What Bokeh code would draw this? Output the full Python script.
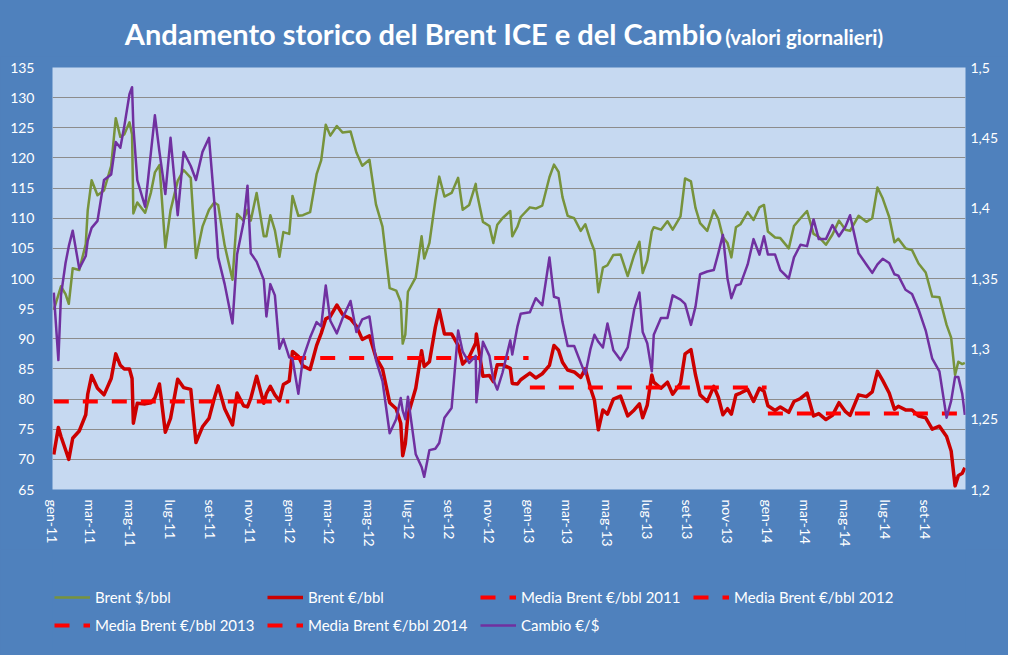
import pandas as pd
from bokeh.plotting import figure
from bokeh.layouts import column
from bokeh.models import (ColumnDataSource, Range1d, LinearAxis, FixedTicker,
                          CustomJSTickFormatter, Legend, LegendItem, Div)
from bokeh.embed import file_html
from bokeh.resources import INLINE

# ---------------- data ----------------
dates = [
    # 2011
    "2011-01-03", "2011-01-10", "2011-01-14", "2011-01-21", "2011-01-26", "2011-02-01", "2011-02-11", "2011-02-21",
    "2011-02-24", "2011-03-02", "2011-03-11", "2011-03-21", "2011-04-01", "2011-04-08", "2011-04-15", "2011-04-21",
    "2011-04-29", "2011-05-03", "2011-05-05", "2011-05-11", "2011-05-23", "2011-06-01", "2011-06-07", "2011-06-14",
    "2011-06-23", "2011-07-01", "2011-07-12", "2011-07-21", "2011-08-01", "2011-08-09", "2011-08-19", "2011-08-29",
    "2011-09-06", "2011-09-12", "2011-09-22", "2011-10-04", "2011-10-11", "2011-10-21", "2011-10-27", "2011-11-01",
    "2011-11-10", "2011-11-21", "2011-11-25", "2011-12-01", "2011-12-08", "2011-12-15", "2011-12-21", "2011-12-30",
    # 2012
    "2012-01-04", "2012-01-13", "2012-01-20", "2012-01-31", "2012-02-10", "2012-02-17", "2012-02-24", "2012-03-02",
    "2012-03-12", "2012-03-21", "2012-04-02", "2012-04-11", "2012-04-20", "2012-05-01", "2012-05-11", "2012-05-21",
    "2012-06-01", "2012-06-11", "2012-06-18", "2012-06-21", "2012-06-25", "2012-06-29", "2012-07-11", "2012-07-20",
    "2012-07-24", "2012-08-01", "2012-08-10", "2012-08-16", "2012-08-24", "2012-09-04", "2012-09-14", "2012-09-21",
    "2012-10-01", "2012-10-11", "2012-10-12", "2012-10-22", "2012-11-01", "2012-11-07", "2012-11-13", "2012-11-21",
    "2012-12-03", "2012-12-06", "2012-12-14", "2012-12-19",
    # 2013
    "2013-01-02", "2013-01-11", "2013-01-21", "2013-02-01", "2013-02-08", "2013-02-15", "2013-02-21", "2013-03-01",
    "2013-03-11", "2013-03-21", "2013-03-28", "2013-04-05", "2013-04-11", "2013-04-17", "2013-04-24", "2013-05-01",
    "2013-05-10", "2013-05-21", "2013-06-01", "2013-06-11", "2013-06-19", "2013-06-24", "2013-07-01", "2013-07-08",
    "2013-07-11", "2013-07-22", "2013-08-01", "2013-08-09", "2013-08-21", "2013-08-28", "2013-09-06", "2013-09-13",
    "2013-09-20", "2013-10-01", "2013-10-11", "2013-10-18", "2013-10-25", "2013-11-01", "2013-11-07", "2013-11-14",
    "2013-11-21", "2013-12-02", "2013-12-11", "2013-12-20", "2013-12-27",
    # 2014
    "2014-01-02", "2014-01-13", "2014-01-21", "2014-02-03", "2014-02-11", "2014-02-21", "2014-03-03", "2014-03-13",
    "2014-03-21", "2014-04-01", "2014-04-11", "2014-04-21", "2014-05-01", "2014-05-08", "2014-05-21", "2014-06-02",
    "2014-06-11", "2014-06-19", "2014-06-27", "2014-07-07", "2014-07-15", "2014-07-21", "2014-08-01", "2014-08-11",
    "2014-08-21", "2014-09-01", "2014-09-11", "2014-09-22", "2014-10-03", "2014-10-10", "2014-10-16", "2014-10-21",
    "2014-10-27", "2014-10-31",
]

brent_usd = [
    # 2011
    94.8, 97.3, 98.7, 97.4, 95.8, 101.7, 101.4, 105.7, 111.3, 116.3, 113.8, 114.6, 118.7, 126.6, 123.5, 123.9,
    125.9, 123.9, 110.8, 112.6, 110.9, 114.3, 117.6, 118.8, 105.1, 111.3, 116.2, 118.0, 116.7, 103.4, 108.6, 111.4,
    112.6, 112.2, 105.5, 99.8, 110.7, 109.6, 111.4, 109.6, 114.2, 107.0, 107.0, 110.5, 108.0, 103.6, 107.7, 107.4,
    # 2012
    113.7, 110.4, 110.5, 111.0, 117.3, 119.6, 125.5, 123.7, 125.3, 124.2, 124.4, 120.9, 118.7, 119.7, 112.3, 108.6,
    98.4, 98.0, 96.1, 89.2, 90.7, 97.8, 100.2, 107.0, 103.3, 105.9, 112.9, 116.9, 113.6, 114.2, 116.7, 111.4,
    112.2, 115.7, 114.6, 109.4, 108.7, 105.9, 108.9, 110.0, 111.2, 107.0, 108.6, 110.2,
    # 2013
    111.8, 111.6, 112.1, 116.8, 118.9, 117.7, 113.5, 110.4, 110.0, 107.9, 109.0, 106.3, 104.6, 97.7, 101.8, 102.2,
    103.9, 104.0, 100.4, 103.9, 106.1, 100.9, 103.0, 107.8, 108.5, 108.1, 109.5, 108.1, 110.3, 116.6, 116.1, 111.7,
    109.2, 107.9, 111.3, 109.9, 106.9, 105.9, 103.5, 108.5, 109.0, 111.0, 109.7, 111.8, 112.2,
    # 2014
    107.8, 106.8, 106.7, 105.0, 108.7, 110.0, 111.2, 107.4, 106.9, 105.6, 107.3, 109.6, 108.1, 107.9, 110.4, 109.4,
    110.0, 115.1, 113.3, 110.2, 106.0, 106.6, 105.0, 104.7, 102.5, 101.0, 97.0, 96.9, 92.3, 90.2, 84.0, 86.2,
    85.8, 86.0,
]

brent_eur = [
    # 2011
    70.8, 75.3, 73.8, 71.6, 70.0, 73.5, 74.7, 77.4, 80.8, 83.9, 81.8, 80.7, 83.4, 87.5, 85.6, 85.0,
    85.0, 83.4, 76.0, 79.3, 79.2, 79.4, 80.2, 82.5, 74.5, 76.8, 83.3, 81.9, 81.6, 72.8, 75.4, 76.8,
    80.1, 82.2, 78.4, 75.7, 81.0, 78.9, 78.7, 80.1, 83.8, 79.3, 80.9, 82.1, 80.7, 79.7, 82.4, 83.0,
    # 2012
    87.9, 87.1, 85.5, 84.9, 88.9, 90.9, 93.3, 93.7, 95.6, 94.0, 93.3, 92.1, 89.9, 90.5, 86.9, 85.0,
    79.4, 78.4, 76.0, 70.6, 72.6, 77.3, 81.8, 88.0, 85.4, 86.2, 91.9, 94.8, 90.8, 90.8, 88.9, 85.8,
    87.0, 89.3, 90.8, 83.8, 83.9, 82.9, 85.7, 85.7, 85.1, 82.6, 82.5, 83.2,
    # 2013
    84.3, 83.5, 84.2, 85.6, 88.9, 88.1, 86.1, 84.8, 84.5, 83.6, 85.0, 81.8, 79.8, 74.9, 78.2, 77.5,
    80.0, 80.5, 77.2, 78.2, 79.2, 76.9, 79.0, 84.0, 82.8, 81.8, 82.8, 80.8, 82.6, 87.5, 88.2, 84.0,
    80.7, 79.6, 82.1, 80.3, 77.4, 78.4, 77.5, 80.7, 81.0, 81.6, 79.6, 81.8, 81.3,
    # 2014
    78.9, 78.1, 78.7, 77.8, 79.6, 80.1, 81.0, 77.2, 77.6, 76.6, 77.3, 79.4, 77.9, 77.3, 80.7, 80.4,
    81.2, 84.6, 83.1, 81.0, 78.3, 78.8, 78.2, 78.2, 77.2, 76.9, 75.0, 75.5, 73.8, 71.4, 65.6, 67.3,
    67.7, 68.6,
]

cambio = [
    # 2011
    1.340, 1.292, 1.338, 1.361, 1.373, 1.384, 1.357, 1.366, 1.377, 1.386, 1.391, 1.420, 1.424, 1.447, 1.443, 1.458,
    1.481, 1.486, 1.458, 1.420, 1.401, 1.440, 1.466, 1.440, 1.410, 1.450, 1.395, 1.440, 1.430, 1.420, 1.440, 1.450,
    1.405, 1.365, 1.346, 1.318, 1.367, 1.390, 1.416, 1.368, 1.362, 1.349, 1.323, 1.346, 1.338, 1.300, 1.307, 1.294,
    # 2012
    1.293, 1.268, 1.293, 1.308, 1.319, 1.316, 1.345, 1.320, 1.311, 1.322, 1.334, 1.312, 1.321, 1.323, 1.292, 1.277,
    1.240, 1.250, 1.265, 1.256, 1.250, 1.266, 1.225, 1.216, 1.209, 1.228, 1.229, 1.233, 1.251, 1.258, 1.313, 1.298,
    1.290, 1.295, 1.262, 1.305, 1.295, 1.278, 1.271, 1.283, 1.306, 1.296, 1.316, 1.325,
    # 2013
    1.326, 1.336, 1.331, 1.365, 1.337, 1.336, 1.319, 1.302, 1.302, 1.290, 1.282, 1.300, 1.310, 1.305, 1.301, 1.318,
    1.299, 1.292, 1.301, 1.328, 1.340, 1.312, 1.304, 1.284, 1.310, 1.322, 1.322, 1.338, 1.335, 1.332, 1.317, 1.330,
    1.353, 1.355, 1.356, 1.368, 1.381, 1.350, 1.336, 1.345, 1.346, 1.360, 1.378, 1.367, 1.380,
    # 2014
    1.367, 1.367, 1.356, 1.350, 1.365, 1.374, 1.373, 1.392, 1.378, 1.378, 1.388, 1.380, 1.387, 1.395, 1.368, 1.360,
    1.354, 1.360, 1.364, 1.361, 1.353, 1.352, 1.342, 1.339, 1.328, 1.313, 1.293, 1.284, 1.251, 1.263, 1.280, 1.280,
    1.268, 1.253,
]

media_labels = ["Media Brent €/bbl 2011", "Media Brent €/bbl 2012", "Media Brent €/bbl 2013", "Media Brent €/bbl 2014"]
media_start = ["2011-01-03", "2012-01-02", "2013-01-02", "2014-01-02"]
media_end = ["2011-12-30", "2012-12-31", "2013-12-31", "2014-10-31"]
media_value = [79.6, 86.8, 81.9, 77.6]

tick_dates = ["2011-01-01", "2011-03-01", "2011-05-01", "2011-07-01", "2011-09-01", "2011-11-01",
              "2012-01-01", "2012-03-01", "2012-05-01", "2012-07-01", "2012-09-01", "2012-11-01",
              "2013-01-01", "2013-03-01", "2013-05-01", "2013-07-01", "2013-09-01", "2013-11-01",
              "2014-01-01", "2014-03-01", "2014-05-01", "2014-07-01", "2014-09-01"]
tick_labels = ["gen-11", "mar-11", "mag-11", "lug-11", "set-11", "nov-11",
               "gen-12", "mar-12", "mag-12", "lug-12", "set-12", "nov-12",
               "gen-13", "mar-13", "mag-13", "lug-13", "set-13", "nov-13",
               "gen-14", "mar-14", "mag-14", "lug-14", "set-14"]
left_ticks = [65, 70, 75, 80, 85, 90, 95, 100, 105, 110, 115, 120, 125, 130, 135]
right_ticks = [1.2, 1.25, 1.3, 1.35, 1.4, 1.45, 1.5]

title_main = "Andamento storico del Brent ICE e del Cambio"
title_sub = "(valori giornalieri)"

assert len(dates) == len(brent_usd) == len(brent_eur) == len(cambio)

# ---------------- styling ----------------
BG = "#4f81bd"
PLOT_BG = "#c6d9f1"
GRID = "#8c8c8c"
GREEN = "#77933c"
RED = "#cc0000"
MEDIA = "#ff0000"
PURPLE = "#7030a0"
FONT = "Lato"
W = 1008
TITLE_H = 56
MAIN_H = 493
LEG_H = 655 - TITLE_H - MAIN_H

USD_STYLE = dict(line_color=GREEN, line_width=2.5, line_join="round")
EUR_STYLE = dict(line_color=RED, line_width=3.5, line_join="round")
MEDIA_STYLE = dict(line_color=MEDIA, line_width=4, line_dash="15 14")
CAM_STYLE = dict(line_color=PURPLE, line_width=2.5, line_join="round")

src = ColumnDataSource(dict(date=pd.to_datetime(dates), usd=brent_usd, eur=brent_eur, cambio=cambio))

p = figure(width=W, height=MAIN_H, x_axis_type="datetime",
           output_backend="svg", toolbar_location=None,
           x_range=Range1d(pd.Timestamp("2011-01-01"), pd.Timestamp("2014-11-01")),
           y_range=Range1d(65, 135),
           min_border_left=52, min_border_right=43, min_border_top=11, min_border_bottom=58)
p.background_fill_color = PLOT_BG
p.border_fill_color = BG
p.outline_line_color = None
p.xgrid.visible = False
p.ygrid.grid_line_color = GRID
p.ygrid.grid_line_width = 1

p.extra_y_ranges = {"cambio": Range1d(1.2, 1.5)}


def style_axis(ax, standoff):
    ax.axis_line_color = None
    ax.major_tick_line_color = None
    ax.minor_tick_line_color = None
    ax.major_tick_out = 0
    ax.major_tick_in = 0
    ax.minor_tick_out = 0
    ax.minor_tick_in = 0
    ax.major_label_standoff = standoff
    ax.major_label_text_color = "white"
    ax.major_label_text_font = FONT
    ax.major_label_text_font_size = "14px"


yax = p.yaxis[0]
yax.ticker = FixedTicker(ticks=left_ticks)
style_axis(yax, 18)

rax = LinearAxis(y_range_name="cambio", ticker=FixedTicker(ticks=right_ticks),
                 formatter=CustomJSTickFormatter(code="return (Math.round(tick*100)/100).toString().replace('.', ',');"))
style_axis(rax, 5)
p.add_layout(rax, "right")

xticks = [pd.Timestamp(d).value / 1e6 for d in tick_dates]
xax = p.xaxis[0]
xax.ticker = FixedTicker(ticks=xticks)
xax.major_label_overrides = {t: lab for t, lab in zip(xticks, tick_labels)}
xax.major_label_orientation = "vertical"
style_axis(xax, 10)

# series
p.line("date", "usd", source=src, **USD_STYLE)
p.line("date", "eur", source=src, **EUR_STYLE)
for s, e, v in zip(media_start, media_end, media_value):
    p.line([pd.Timestamp(s), pd.Timestamp(e)], [v, v], **MEDIA_STYLE)
p.line("date", "cambio", source=src, y_range_name="cambio", **CAM_STYLE)

# ---------------- legend strip (separate canvas below the chart) ----------------
lp = figure(width=W, height=LEG_H, output_backend="svg", toolbar_location=None,
            x_range=Range1d(0, 1), y_range=Range1d(0, 1), min_border=0,
            x_axis_location=None, y_axis_location=None)
lp.background_fill_color = BG
lp.border_fill_color = BG
lp.outline_line_color = None
lp.grid.visible = False
# legend keys only: their points lie outside this strip's ranges, so nothing is drawn
off = dict(x=[2, 3], y=[2, 2])
k_usd = lp.line(**off, **USD_STYLE)
k_eur = lp.line(**off, **EUR_STYLE)
k_med = [lp.line(**off, **MEDIA_STYLE) for _ in media_labels]
k_cam = lp.line(**off, **CAM_STYLE)


def make_legend(items, loc):
    lg = Legend(items=items, orientation="horizontal", location=loc)
    lg.background_fill_alpha = 0
    lg.border_line_alpha = 0
    lg.label_text_color = "white"
    lg.label_text_font = FONT
    lg.label_text_font_size = "15px"
    lg.glyph_width = 36
    lg.glyph_height = 20
    lg.label_height = 20
    lg.label_standoff = 5
    lg.label_width = 160
    lg.spacing = 12
    lg.padding = 0
    lg.margin = 0
    return lg


leg1 = make_legend([LegendItem(label="Brent $/bbl", renderers=[k_usd]),
                    LegendItem(label="Brent €/bbl", renderers=[k_eur]),
                    LegendItem(label=media_labels[0], renderers=[k_med[0]]),
                    LegendItem(label=media_labels[1], renderers=[k_med[1]])], (2, LEG_H - 57.5))
leg2 = make_legend([LegendItem(label=media_labels[2], renderers=[k_med[2]]),
                    LegendItem(label=media_labels[3], renderers=[k_med[3]]),
                    LegendItem(label="Cambio €/$", renderers=[k_cam])], (2, LEG_H - 85.7))
lp.add_layout(leg1)
lp.add_layout(leg2)

title_html = (
    f'<div style="box-sizing:border-box;width:{W}px;height:{TITLE_H}px;padding-top:12px;background:{BG};'
    f'color:white;font-family:Lato,sans-serif;font-weight:bold;text-align:center;'
    f'line-height:{TITLE_H - 12}px;white-space:nowrap;margin:0;overflow:hidden">'
    f'<span style="font-size:29px">{title_main}</span> '
    f'<span style="font-size:20.5px">{title_sub}</span></div>'
)
title = Div(text=title_html, width=W, height=TITLE_H, margin=(0, 0, 0, 0),
            styles={"background-color": BG})

layout = column(title, p, lp, spacing=0, styles={"background-color": BG})
open("out.html", "w").write(file_html(layout, INLINE))
